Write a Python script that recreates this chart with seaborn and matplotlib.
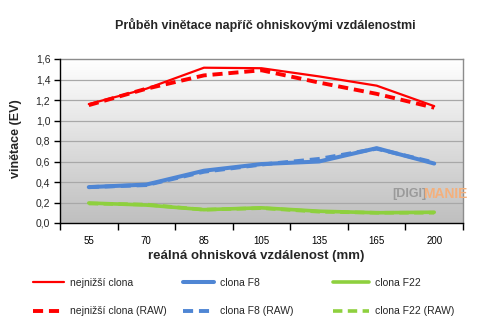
import numpy as np
import pandas as pd
import matplotlib
matplotlib.use("Agg")
import matplotlib.pyplot as plt
import seaborn as sns
from matplotlib.lines import Line2D
from matplotlib.ticker import FixedLocator
from matplotlib.colors import LinearSegmentedColormap

sns.set_theme(style="white")
plt.rcParams['font.family'] = ['Liberation Sans', 'DejaVu Sans']

# ---- data ----
focal = ["55", "70", "85", "105", "135", "165", "200"]
low_ap = [1.16, 1.31, 1.515, 1.51, 1.43, 1.34, 1.14]
f8 = [0.35, 0.375, 0.51, 0.575, 0.60, 0.73, 0.58]
f22 = [0.195, 0.175, 0.13, 0.148, 0.115, 0.10, 0.105]
low_ap_raw = [1.15, 1.31, 1.44, 1.49, 1.37, 1.26, 1.125]
f8_raw = [0.35, 0.37, 0.50, 0.57, 0.625, 0.725, 0.59]
f22_raw = [0.19, 0.18, 0.13, 0.145, 0.11, 0.10, 0.10]
labels = ["nejnižší clona", "clona F8", "clona F22",
          "nejnižší clona (RAW)", "clona F8 (RAW)", "clona F22 (RAW)"]

title = "Průběh vinětace napříč ohniskovými vzdálenostmi"
xlabel = "reálná ohnisková vzdálenost (mm)"
ylabel = "vinětace (EV)"

RED = "#ff0000"
BLUE = "#4f86d4"
GREEN = "#8ed03e"
DASH = (0, (2.6, 1.5))

series = [
    (labels[0], low_ap, RED, 1.6, "-"),
    (labels[1], f8, BLUE, 2.9, "-"),
    (labels[2], f22, GREEN, 2.6, "-"),
    (labels[3], low_ap_raw, RED, 2.8, DASH),
    (labels[4], f8_raw, BLUE, 2.8, DASH),
    (labels[5], f22_raw, GREEN, 2.6, DASH),
]

fig = plt.figure(figsize=(4.78, 3.28), dpi=100)
ax = fig.add_axes([60/478, 1-223/328, (463-60)/478, (223-59)/328])

# gradient background
grad = np.linspace(1.0, 0.0, 256).reshape(-1, 1)
cmap = LinearSegmentedColormap.from_list("g", ["#bfbfbf", "#ffffff"])
ax.imshow(grad, extent=[-0.5, 6.5, 0, 1.6], aspect="auto", cmap=cmap,
          origin="upper", zorder=0, vmin=0, vmax=1)

handles = []
for name, vals, col, lw, ls in series:
    df = pd.DataFrame({"x": focal, "y": vals})
    sns.lineplot(data=df, x="x", y="y", ax=ax, sort=False, color=col,
                 linewidth=lw, linestyle=ls, zorder=3)
    handles.append(Line2D([], [], color=col, lw=lw, linestyle=ls))

yt = np.arange(0, 1.61, 0.2)
ax.set_xlim(-0.5, 6.5)
ax.set_ylim(0, 1.6)
ax.set_yticks(yt)
ax.set_yticklabels([f"{v:.1f}".replace(".", ",") for v in yt], fontsize=7.5)
ax.set_xticks(range(len(focal)))
ax.set_xticklabels(focal, fontsize=7)
ax.xaxis.set_minor_locator(FixedLocator(np.arange(-0.5, 6.6, 1.0)))
ax.tick_params(axis="x", which="major", length=0, pad=9, colors="black")
ax.tick_params(axis="x", which="minor", length=5, width=1, direction="out",
               color="black", bottom=True)
ax.tick_params(axis="y", which="major", length=4, width=1, direction="out",
               color="black", left=True, pad=3)
for v in yt[1:-1]:
    ax.axhline(v, color="#a8a8a8", lw=0.9, zorder=1)
ax.grid(False)
for s in ["top", "right"]:
    ax.spines[s].set_color("#8c8c8c")
    ax.spines[s].set_linewidth(1)
for s in ["left", "bottom"]:
    ax.spines[s].set_color("black")
    ax.spines[s].set_linewidth(1)
    ax.spines[s].set_zorder(5)

ax.set_xlabel("")
ax.set_ylabel("")
fig.text(265/478, 1-25/328, title, ha="center", va="center",
         fontsize=9, fontweight="bold")
fig.text(256/478, 1-256/328, xlabel, ha="center", va="center",
         fontsize=9.5, fontweight="bold")
fig.text(16/478, 1-139/328, ylabel, ha="center", va="center",
         rotation=90, fontsize=9, fontweight="bold")

# watermark
fig.text(392/478, 1-194/328, "[DIGI]", ha="left", va="center",
         fontsize=9, fontweight="bold", color="#9a9a9a")
fig.text(423/478, 1-194/328, "MANIE", ha="left", va="center",
         fontsize=10, fontweight="bold", color="#f4b07c")

# legend: three columns as separate legends
col_x = [33/478, 183/478, 333/478]
hl = [3.0, 3.0, 3.5]
for i in range(3):
    fig.legend([handles[i], handles[i+3]], [labels[i], labels[i+3]],
               loc="upper left", bbox_to_anchor=(col_x[i], 1-278/328),
               frameon=False, fontsize=7.5, handlelength=hl[i],
               handletextpad=0.55, labelspacing=1.75, borderpad=0,
               borderaxespad=0)

fig.savefig("out.png", dpi=100)
